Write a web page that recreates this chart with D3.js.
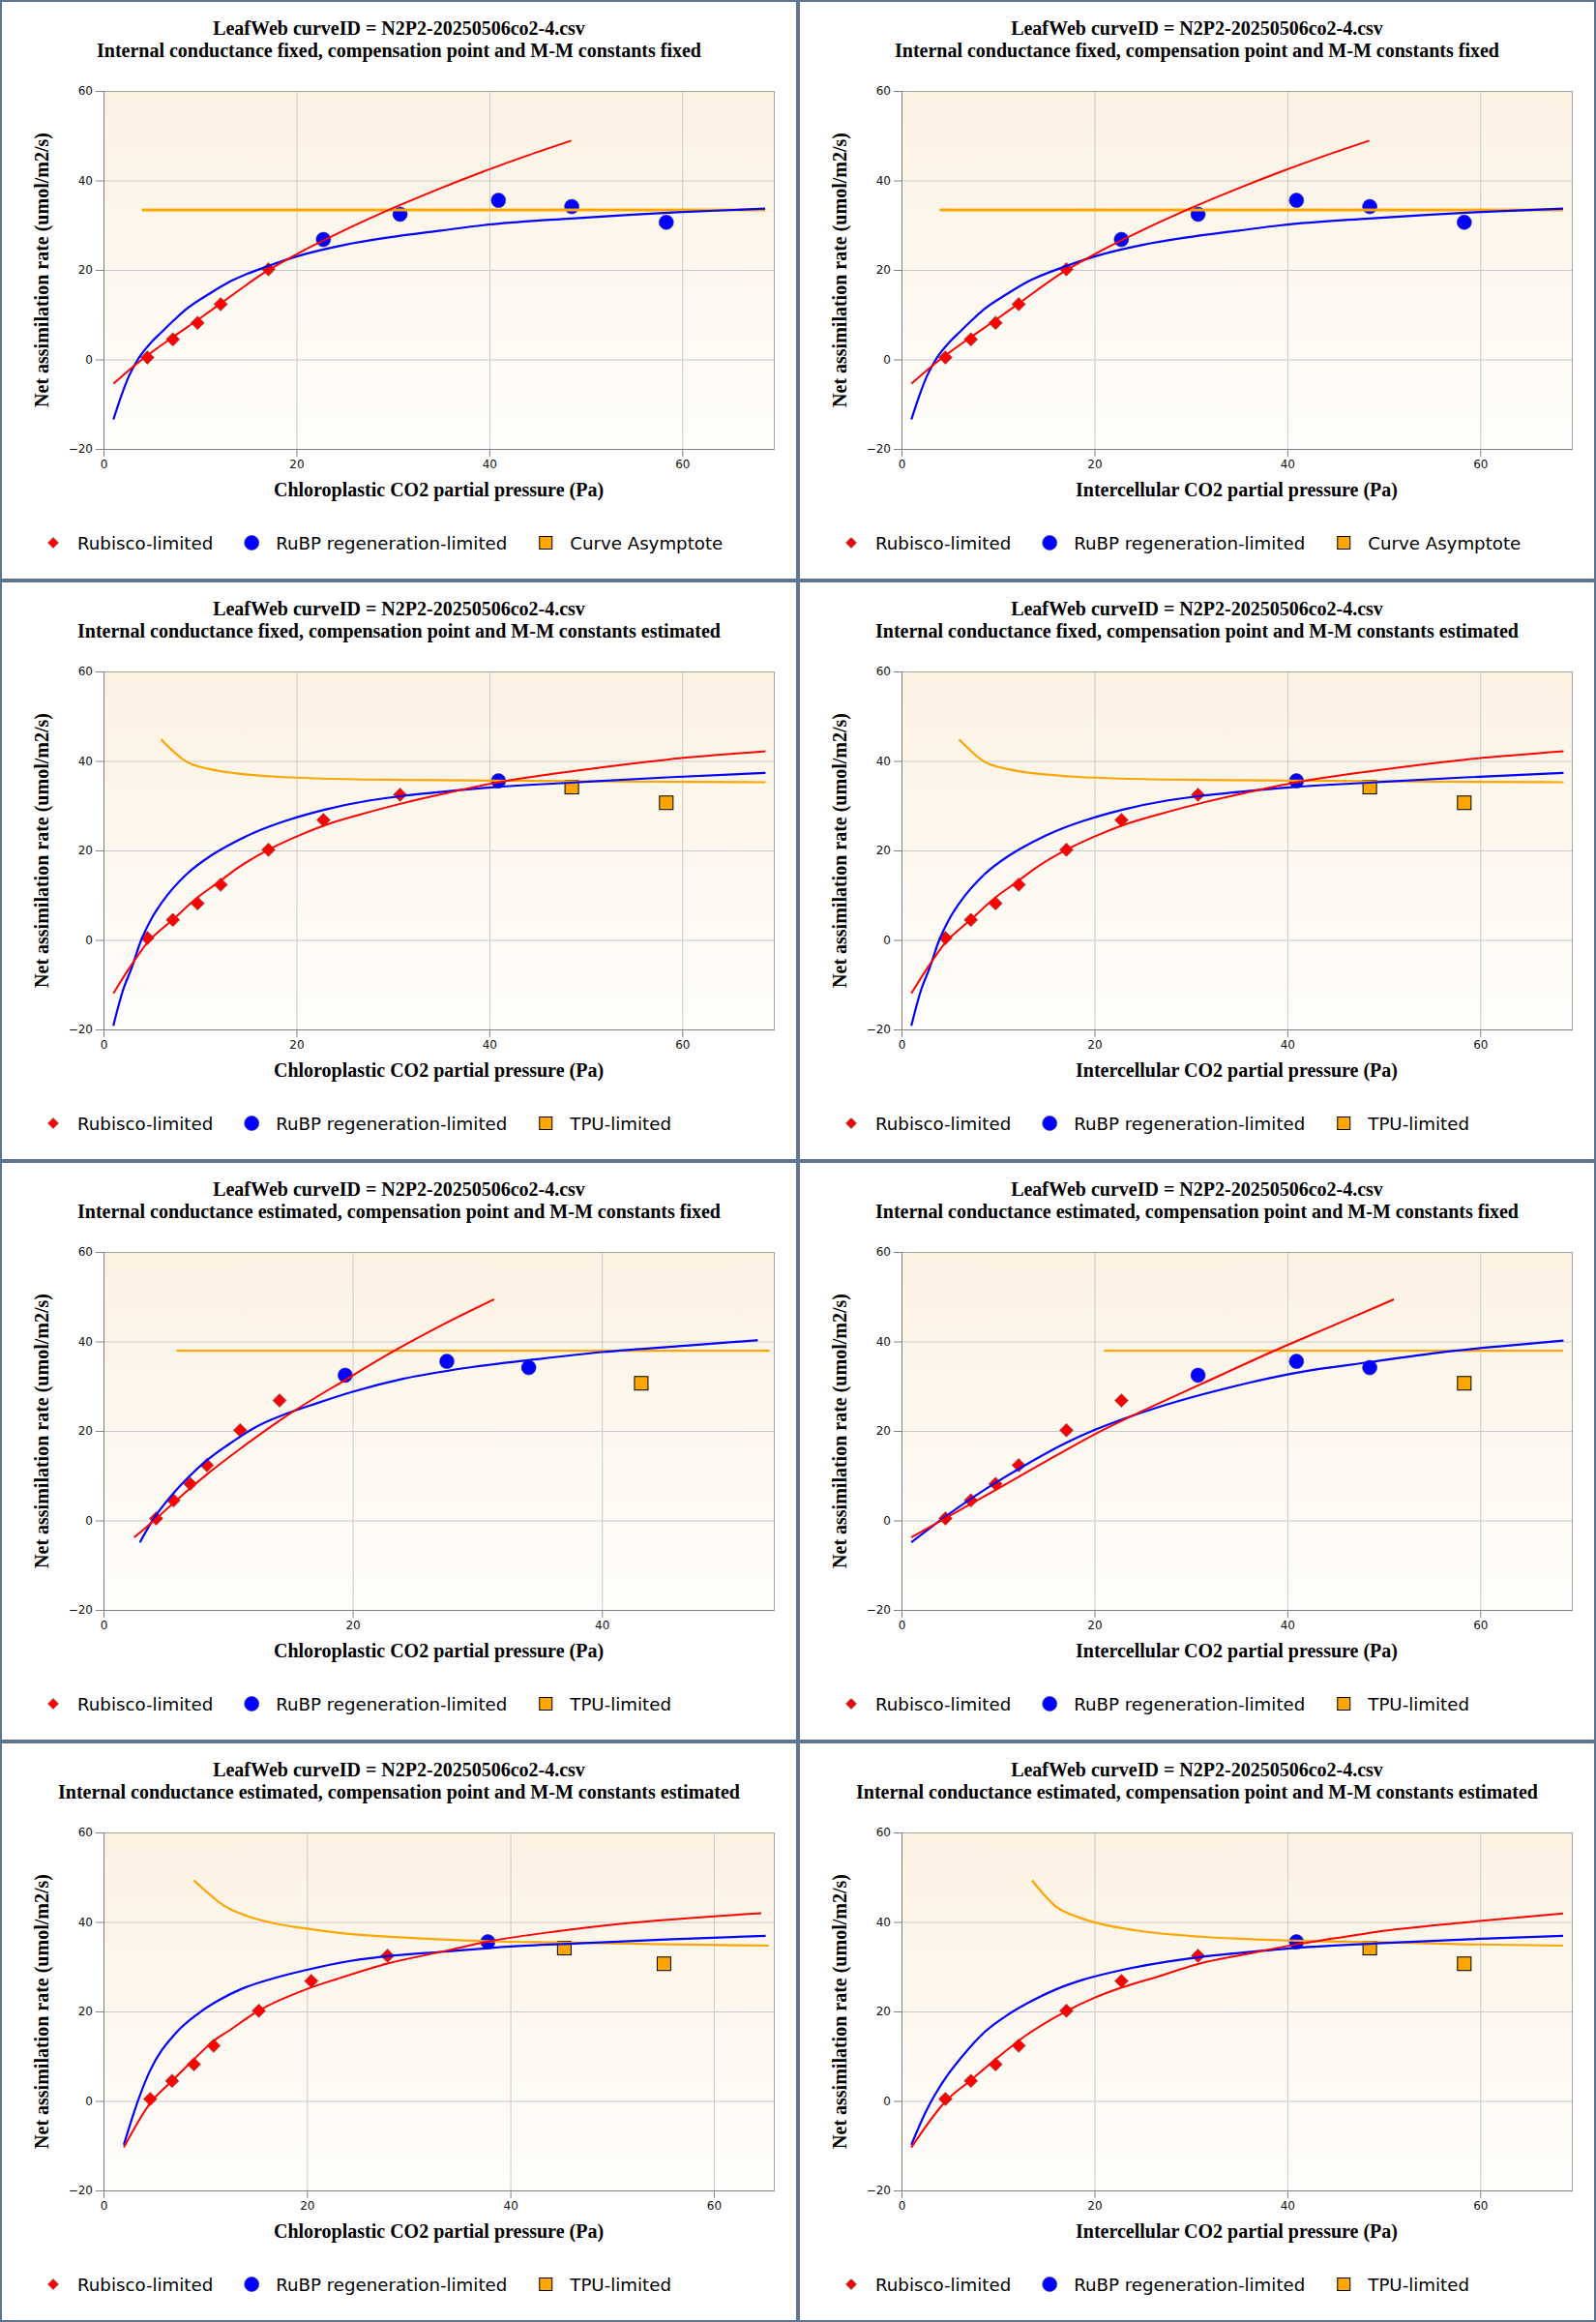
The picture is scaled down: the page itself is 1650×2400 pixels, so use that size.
<!DOCTYPE html>
<meta charset="utf-8">
<title>LeafWeb curve fits</title>
<head>
<style>
body { margin: 0; background: #fff; }
.panel-box { fill: #fff; stroke: #5e7491; stroke-width: 2; }
.title, .axis-title {
  font-family: "Liberation Serif", "Times New Roman", serif;
  font-weight: bold;
  font-size: 20px;
  fill: #000;
  text-anchor: middle;
}
.axis text {
  font-family: "DejaVu Sans", Verdana, sans-serif;
  font-size: 12px;
  fill: #111;
}
.axis path, .axis line { stroke: #808080; }
.grid line { stroke: #c9c9c9; stroke-width: 1; }
.grid path { display: none; }
.frame { fill: none; stroke: #a6a6a6; }
.legend text {
  font-family: "DejaVu Sans", Verdana, sans-serif;
  font-size: 18.2px;
  fill: #000;
}
.curve { fill: none; stroke-width: 2; stroke-linejoin: round; }
</style>
</head>
<body>
<div id="chart"></div>
<script src="https://cdn.jsdelivr.net/npm/d3@7"></script>
<script>
// ---- observations (same A values in every panel) ----
var aValues   = [0.43, 4.46, 8.17, 12.35, 20.15, 26.8, 32.45, 35.55, 34.15, 30.65];
var ciValues  = [4.55, 7.19, 9.75, 12.15, 17.1, 22.8, 30.75, 40.95, 48.55, 58.35];
var ccGmFixed = [4.55, 7.19, 9.75, 12.15, 17.1, 22.8, 30.75, 40.95, 48.55, 58.35];
var ccGmEstKFixed = [4.22, 5.62, 6.96, 8.3, 10.97, 14.13, 19.4, 27.56, 34.13, 43.16];
var ccGmEstKEst   = [4.59, 6.74, 8.89, 10.83, 15.27, 20.43, 27.93, 37.79, 45.3, 55.1];

// limitation assigned to each point
var limitsFixedFixed = ["rubisco","rubisco","rubisco","rubisco","rubisco","rubp","rubp","rubp","rubp","rubp"];
var limitsWithTpu    = ["rubisco","rubisco","rubisco","rubisco","rubisco","rubisco","rubisco","rubp","tpu","tpu"];
var limitsGmEst      = ["rubisco","rubisco","rubisco","rubisco","rubisco","rubisco","rubp","rubp","rubp","tpu"];

// ---- fitted curves ----
var rubiscoCurve1 = [[1.04,-5.4],[4,0],[7.2,5],[9.75,8.8],[12.15,12.5],[17.05,19.9],[20,23.5],[25,28.9],[30,33.8],[35,38.3],[39.4,42],[44,45.6],[48.5,48.9]];
var rubpCurve1 = [[1.03,-13.4],[1.8,-8.4],[2.64,-3.7],[3.65,0.3],[4.98,3.9],[6,6.05],[7.32,8.8],[8.5,11.1],[11,14.7],[13.3,17.6],[17,20.8],[20,23],[25,25.6],[29.4,27.2],[35,28.8],[39.4,30],[48.5,31.5],[59.5,32.9],[68.6,33.7]];
var asymptote1 = [[3.97,33.4],[68.6,33.4]];

var rubiscoCurve3 = [[1.02,-11.96],[2.71,-6.2],[4.57,-0.58],[7.16,4.47],[9.75,9.51],[12.16,13.26],[13.62,15.64],[17.12,20.18],[20.67,23.71],[22.8,25.51],[26.58,28],[30.76,30.41],[35.67,32.86],[40.95,35.24],[49.32,37.91],[58.41,40.29],[68.64,42.16]];
var rubpCurve3 = [[1.02,-19.17],[2.02,-11.24],[2.93,-6.2],[3.84,-0.43],[4.98,4.76],[6.12,8.58],[8.62,14.7],[11.12,18.81],[13.62,21.91],[16.12,24.43],[18.85,26.59],[22.94,29.12],[27.49,31.14],[31.13,32.22],[35.67,33.23],[40.2,34.09],[49.32,35.24],[58.41,36.32],[68.64,37.33]];
var tpuCurve3 = [[5.98,44.83],[8.53,39.93],[11.12,38.13],[13.62,37.26],[17.48,36.54],[22.03,36.11],[31.13,35.75],[40.2,35.6],[49.32,35.46],[68.64,35.24]];

var rubiscoCurve5 = [[2.46,-3.8],[4.22,0.4],[5.62,3.9],[6.96,7.2],[8.3,10.3],[10.97,16],[14.13,22.3],[15.43,24.7],[19.4,31.4],[23.34,37.9],[27.2,43.7],[31.35,49.4]];
var rubpCurve5 = [[2.92,-4.9],[4,0.3],[5.59,6],[6.82,9.66],[8.22,13.26],[9.98,16.86],[12.44,21.19],[14.55,23.71],[17.01,26.09],[20,28.76],[24.04,31.64],[29.31,34.16],[34.59,35.96],[40,37.62],[47.49,39.21],[52.51,40.29]];
var tpuCurve5 = [[5.87,37.9],[53.46,37.9]];

var rubiscoCurve6 = [[1.02,-3.8],[4.57,0.5],[9.75,6.8],[17.12,15.8],[20,19.2],[25.67,25.15],[31.1,30.5],[38.63,37.9],[44.8,43.6],[51.05,49.4]];
var rubpCurve6 = [[1.02,-4.9],[4.57,0.9],[7.16,4.8],[9.75,8.4],[12.94,12.5],[17.12,17.4],[20,20.2],[22.9,22.6],[26.6,25.3],[31.1,28.1],[35.7,30.6],[40.95,33],[48.64,35.4],[55.7,37.5],[62,38.9],[68.64,40.2]];
var tpuCurve6 = [[21,37.9],[68.6,37.9]];

var rubiscoCurve7 = [[2,-10.38],[4.59,-0.5],[6.74,4.47],[8.89,9.3],[10.83,13.4],[12.25,15.57],[15.27,20.18],[20,25],[23.02,27.3],[27.93,30.7],[33.79,33.59],[37.79,35.6],[44.55,37.9],[51,39.6],[64.66,41.95]];
var rubpCurve7 = [[2,-9.8],[2.99,-2.6],[4.5,6.4],[7.08,15.1],[9.23,19.4],[11.4,22.6],[13.54,25],[16.56,27.3],[20,29.3],[24.3,31.3],[28.6,32.5],[33.8,33.4],[40,34.5],[46.7,35.2],[55.3,36.1],[65.1,36.9]];
var tpuCurve7 = [[8.89,49.3],[11.95,43.5],[14.83,40.8],[17.42,39.4],[20,38.5],[23.45,37.5],[29.5,36.5],[37.79,35.7],[45.3,35.4],[55.3,35],[65.4,34.7]];

var rubiscoCurve8 = [[1.02,-10.4],[4.57,-0.1],[7.16,4.6],[9.75,9.3],[12.94,14.7],[17.12,20.1],[19.95,23],[22.9,25.4],[26.6,27.8],[30.76,30.6],[35.7,32.8],[40.95,35],[44.8,36.3],[49.3,37.8],[58.4,39.9],[68.6,41.9]];
var rubpCurve8 = [[1.02,-9.8],[2.48,-2.6],[4.75,5.7],[6.12,9.5],[8.62,15.4],[11.12,19.4],[13.62,22.5],[16.1,25],[18.85,27.1],[22.94,29.3],[27.5,31.1],[31.1,32.2],[35.7,33.2],[40.95,34.2],[49.3,35.2],[58.4,36.1],[68.6,36.9]];
var tpuCurve8 = [[13.53,49.3],[15.98,43.5],[18.4,41],[20.2,39.8],[24.3,38.1],[31.1,36.7],[40.95,35.8],[49.3,35.5],[58.4,35],[68.6,34.7]];

// ---- text ----
var curveTitle = "LeafWeb curveID = N2P2-20250506co2-4.csv";
var subtitles = [
  "Internal conductance fixed, compensation point and M-M constants fixed",
  "Internal conductance fixed, compensation point and M-M constants estimated",
  "Internal conductance estimated, compensation point and M-M constants fixed",
  "Internal conductance estimated, compensation point and M-M constants estimated"
];
var xLabels = ["Chloroplastic CO2 partial pressure (Pa)", "Intercellular CO2 partial pressure (Pa)"];
var yLabel = "Net assimilation rate (umol/m2/s)";
var legendNamesAsym = ["Rubisco-limited", "RuBP regeneration-limited", "Curve Asymptote"];
var legendNamesTpu  = ["Rubisco-limited", "RuBP regeneration-limited", "TPU-limited"];
var xMaxes = [69.5, 69.5, 69.5, 69.5, 53.8, 69.5, 65.9, 69.5];
var xTickValues = [0, 20, 40, 60];
var yTickValues = [-20, 0, 20, 40, 60];

// panel table built from the arrays above
var panels = [
  {sub: 0, xl: 0, cx: ccGmFixed,     lim: limitsFixedFixed, rc: rubiscoCurve1, jc: rubpCurve1, tc: asymptote1, leg: legendNamesAsym},
  {sub: 0, xl: 1, cx: ciValues,      lim: limitsFixedFixed, rc: rubiscoCurve1, jc: rubpCurve1, tc: asymptote1, leg: legendNamesAsym},
  {sub: 1, xl: 0, cx: ccGmFixed,     lim: limitsWithTpu,    rc: rubiscoCurve3, jc: rubpCurve3, tc: tpuCurve3,  leg: legendNamesTpu},
  {sub: 1, xl: 1, cx: ciValues,      lim: limitsWithTpu,    rc: rubiscoCurve3, jc: rubpCurve3, tc: tpuCurve3,  leg: legendNamesTpu},
  {sub: 2, xl: 0, cx: ccGmEstKFixed, lim: limitsGmEst,      rc: rubiscoCurve5, jc: rubpCurve5, tc: tpuCurve5,  leg: legendNamesTpu},
  {sub: 2, xl: 1, cx: ciValues,      lim: limitsGmEst,      rc: rubiscoCurve6, jc: rubpCurve6, tc: tpuCurve6,  leg: legendNamesTpu},
  {sub: 3, xl: 0, cx: ccGmEstKEst,   lim: limitsWithTpu,    rc: rubiscoCurve7, jc: rubpCurve7, tc: tpuCurve7,  leg: legendNamesTpu},
  {sub: 3, xl: 1, cx: ciValues,      lim: limitsWithTpu,    rc: rubiscoCurve8, jc: rubpCurve8, tc: tpuCurve8,  leg: legendNamesTpu}
];

var colors = {rubisco: "#ff0000", rubp: "#0000ff", tpu: "#ffa500"};

var panelW = 825, panelH = 600;
var margin = {top: 94, right: 25, bottom: 136, left: 107},
    width = panelW - margin.left - margin.right,
    height = panelH - margin.top - margin.bottom;

var svg = d3.select("#chart").append("svg")
    .attr("width", panelW * 2)
    .attr("height", panelH * 4);

var grad = svg.append("defs").append("linearGradient")
    .attr("id", "plotbg")
    .attr("x1", 0).attr("y1", 0).attr("x2", 0).attr("y2", 1);
grad.append("stop").attr("offset", "0%").attr("stop-color", "#fcf2e2");
grad.append("stop").attr("offset", "100%").attr("stop-color", "#fffefc");

function drawMarker(sel, kind, s) {
  if (kind == "rubisco") {
    sel.append("path")
      .attr("d", "M0," + (-s) + "L" + s + ",0L0," + s + "L" + (-s) + ",0Z")
      .style("fill", colors.rubisco)
      .style("stroke", "#7a6a6a")
      .style("stroke-width", 0.8);
  } else if (kind == "rubp") {
    sel.append("circle")
      .attr("r", s + 1)
      .style("fill", colors.rubp)
      .style("stroke", "#2a2a9a")
      .style("stroke-width", 0.6);
  } else {
    sel.append("rect")
      .attr("x", -s).attr("y", -s)
      .attr("width", 2 * s).attr("height", 2 * s)
      .style("fill", colors.tpu)
      .style("stroke", "#000")
      .style("stroke-width", 1);
  }
}

panels.forEach(function(p, i) {
  var col = i % 2, row = Math.floor(i / 2);
  var g = svg.append("g")
      .attr("transform", "translate(" + (col * panelW) + "," + (row * panelH) + ")");

  g.append("rect")
      .attr("class", "panel-box")
      .attr("x", 1).attr("y", 1)
      .attr("width", panelW - 2).attr("height", panelH - 2);

  g.append("text").attr("class", "title")
      .attr("x", panelW / 2).attr("y", 36)
      .text(curveTitle);
  g.append("text").attr("class", "title")
      .attr("x", panelW / 2).attr("y", 59)
      .text(subtitles[p.sub]);

  var x = d3.scaleLinear().domain([0, xMaxes[i]]).range([0, width]);
  var y = d3.scaleLinear().domain([-20, 60]).range([height, 0]);
  var xt = xTickValues.filter(function(v) { return v <= xMaxes[i]; });

  var plot = g.append("g")
      .attr("transform", "translate(" + margin.left + "," + margin.top + ")");

  plot.append("rect")
      .attr("width", width).attr("height", height)
      .style("fill", "url(#plotbg)");

  plot.append("g").attr("class", "grid")
      .attr("transform", "translate(0," + height + ")")
      .call(d3.axisBottom(x).tickValues(xt.slice(1)).tickSize(-height).tickFormat(""));
  plot.append("g").attr("class", "grid")
      .call(d3.axisLeft(y).tickValues(yTickValues.slice(1, -1)).tickSize(-width).tickFormat(""));

  plot.append("rect").attr("class", "frame")
      .attr("x", 0.5).attr("y", 0.5)
      .attr("width", width).attr("height", height);

  plot.append("g").attr("class", "axis")
      .attr("transform", "translate(0," + height + ")")
      .call(d3.axisBottom(x).tickValues(xt).tickSize(8).tickSizeOuter(0).tickPadding(3));
  plot.append("g").attr("class", "axis")
      .call(d3.axisLeft(y).tickValues(yTickValues).tickSize(8).tickSizeOuter(0).tickPadding(3));

  // points
  var pts = p.cx.map(function(cx, k) { return {x: cx, a: aValues[k], kind: p.lim[k]}; });
  plot.append("g").selectAll(".pt")
      .data(pts)
    .enter().append("g")
      .attr("class", "pt")
      .attr("transform", function(d) { return "translate(" + x(d.x) + "," + y(d.a) + ")"; })
      .each(function(d) { drawMarker(d3.select(this), d.kind, d.kind == "rubp" ? 6.5 : 7); });

  // fitted curves
  var line = d3.line()
      .x(function(d) { return x(d[0]); })
      .y(function(d) { return y(d[1]); })
      .curve(d3.curveMonotoneX);

  [[p.tc, colors.tpu, i < 2 ? 3 : 2.2], [p.jc, colors.rubp, 2.2], [p.rc, colors.rubisco, 2]].forEach(function(c) {
    plot.append("path")
        .datum(c[0])
        .attr("class", "curve")
        .attr("d", line)
        .style("stroke", c[1])
        .style("stroke-width", c[2]);
  });

  // axis titles
  g.append("text").attr("class", "axis-title")
      .attr("x", margin.left + width / 2).attr("y", 513)
      .text(xLabels[p.xl]);
  g.append("text").attr("class", "axis-title")
      .attr("transform", "translate(50," + (margin.top + height / 2) + ") rotate(-90)")
      .text(yLabel);

  // legend
  var legend = g.append("g").attr("class", "legend")
      .attr("transform", "translate(0,561)");
  var lx = 55;
  ["rubisco", "rubp", "tpu"].forEach(function(kind, k) {
    var item = legend.append("g").attr("transform", "translate(" + lx + ",0)");
    drawMarker(item, kind, kind == "rubisco" ? 5.5 : 6.5);
    var t = item.append("text")
        .attr("x", 25).attr("y", 6.5)
        .text(p.leg[k]);
    lx += 25 + t.node().getComputedTextLength() + 40;
  });
});
</script>
</body>
</html>
